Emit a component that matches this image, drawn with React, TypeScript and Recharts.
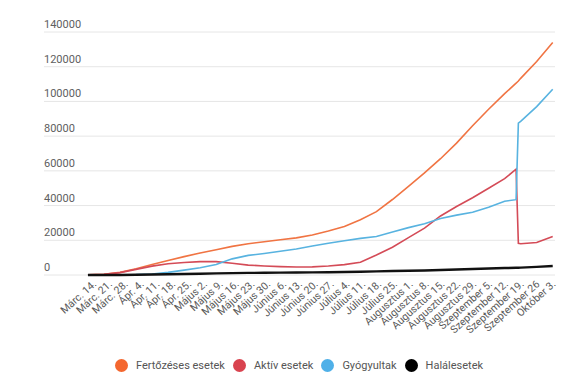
import { LineChart, Line, XAxis, YAxis, CartesianGrid, Legend } from 'recharts'

// days counted from Márc. 14.; weekly points plus the days around the September jump
const days = [
  0, 7, 14, 21, 28, 35, 42, 49, 56, 63, 70, 77, 84, 91, 98, 105, 112, 119, 126, 133,
  140, 147, 154, 161, 168, 175, 182, 187, 188, 189, 196, 203,
]

const fertozes = [
  150, 400, 1500, 3600, 6000, 8400, 10600, 12700, 14600, 16500, 18000, 19200, 20300, 21400,
  23000, 25300, 28000, 31800, 36500, 43500, 51000, 58800, 67000, 76000, 86000, 95500, 104500,
  110500, 111800, 113300, 123000, 134000,
]

const aktiv = [
  120, 360, 1380, 3250, 5100, 6500, 7200, 7700, 7700, 6800, 5700, 5200, 4800, 4600, 4700,
  5200, 6000, 7300, 11500, 16000, 21500, 27000, 34000, 39500, 44500, 50000, 55500, 61000,
  18300, 18000, 18700, 22200,
]

const gyogyult = [
  0, 20, 80, 200, 600, 1500, 2800, 4200, 6000, 9300, 11300, 12400, 13700, 15000, 16700,
  18300, 19700, 21100, 22200, 24800, 27300, 29500, 32500, 34500, 36200, 39000, 42500, 43400,
  87500, 88500, 97000, 107000,
]

const halal = [
  0, 2, 40, 150, 290, 430, 580, 730, 950, 1100, 1200, 1270, 1340, 1420, 1500, 1600, 1750,
  1900, 2080, 2270, 2420, 2620, 2850, 3150, 3450, 3750, 4000, 4150, 4200, 4250, 4700, 5200,
]

const tickDays = [
  0, 7, 14, 21, 28, 35, 42, 49, 56, 63, 70, 77, 84, 91, 98, 105, 112, 119, 126, 133, 140,
  147, 154, 161, 168, 175, 182, 189, 196, 203,
]

const tickLabels = [
  'Márc. 14.', 'Márc. 21.', 'Márc. 28.', 'Ápr. 4.', 'Ápr. 11.', 'Ápr. 18.', 'Ápr. 25.',
  'Május 2.', 'Május 9.', 'Május 16.', 'Május 23.', 'Május 30.', 'Június 6.', 'Június 13.',
  'Június 20.', 'Június 27.', 'Július 4.', 'Július 11.', 'Július 18.', 'Július 25.',
  'Augusztus 1.', 'Augusztus 8.', 'Augusztus 15.', 'Augusztus 22.', 'Augusztus 29.',
  'Szeptember 5.', 'Szeptember 12.', 'Szeptember 19.', 'Szeptember 26', 'Október 3.',
]

const yTicks = [0, 20000, 40000, 60000, 80000, 100000, 120000, 140000]

const series = [
  { key: 'fertozes', name: 'Fertőzéses esetek', color: '#f07443', legend: '#f4672f', width: 1.6 },
  { key: 'aktiv', name: 'Aktív esetek', color: '#d44b57', legend: '#d9434f', width: 1.6 },
  { key: 'gyogyult', name: 'Gyógyultak', color: '#58b3e0', legend: '#4fb0e8', width: 1.6 },
  { key: 'halal', name: 'Halálesetek', color: '#111111', legend: '#000000', width: 2.4 },
]

const data = days.map((day, i) => ({
  day,
  fertozes: fertozes[i],
  aktiv: aktiv[i],
  gyogyult: gyogyult[i],
  halal: halal[i],
}))

const FONT = 'Roboto, "Noto Sans", sans-serif'

function ValueTick({ y, payload }: any) {
  return (
    <text x={44} y={y - 4} textAnchor="start" fontSize={11} fill="#606060" fontFamily={FONT}>
      {payload.value}
    </text>
  )
}

function DateTick({ x, y, index }: any) {
  const shift = 9 - index * 0.19
  return (
    <g transform={`translate(${x + shift},${y + 2})`}>
      <text textAnchor="end" transform="rotate(-42)" fontSize={10.5} fill="#5a5a5a" fontFamily={FONT}>
        {tickLabels[index]}
      </text>
    </g>
  )
}

function LegendContent() {
  return (
    <div
      style={{
        display: 'flex',
        justifyContent: 'center',
        fontFamily: FONT,
        fontSize: 11,
        color: '#555',
      }}
    >
      {series.map((s) => (
        <span key={s.key} style={{ display: 'flex', alignItems: 'center', margin: '0 4px' }}>
          <span
            style={{
              width: 13,
              height: 13,
              borderRadius: '50%',
              background: s.legend,
              marginRight: 8,
            }}
          />
          {s.name}
        </span>
      ))}
    </div>
  )
}

export default function App() {
  return (
    <div style={{ position: 'absolute', left: 0, top: 0, width: 575, height: 387, background: '#fff' }}>
      <LineChart width={575} height={387} data={data} margin={{ top: 32, right: 20, left: 43, bottom: 8 }}>
        <CartesianGrid vertical={false} stroke="#e6e6e6" />
        <XAxis
          dataKey="day"
          type="number"
          domain={[-19.2, 204]}
          ticks={tickDays}
          interval={0}
          tick={<DateTick />}
          tickLine={false}
          axisLine={false}
          height={84}
        />
        <YAxis
          domain={[0, 140000]}
          ticks={yTicks}
          width={1}
          tick={<ValueTick />}
          tickLine={false}
          axisLine={false}
        />
        <Legend verticalAlign="bottom" height={20} content={<LegendContent />} />
        {series.map((s) => (
          <Line
            key={s.key}
            type="linear"
            dataKey={s.key}
            name={s.name}
            stroke={s.color}
            strokeWidth={s.width}
            dot={false}
            isAnimationActive={false}
          />
        ))}
      </LineChart>
    </div>
  )
}
